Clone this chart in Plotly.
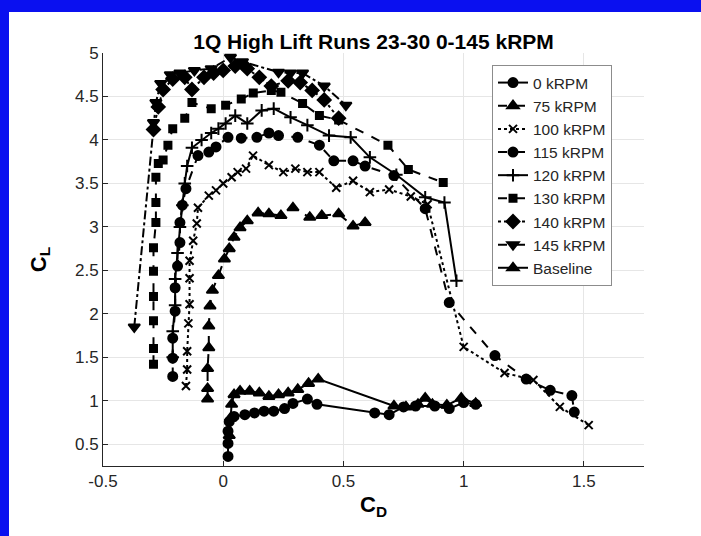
import plotly.graph_objects as go

# ---- data ----
cd_0 = [0.02, 0.02, 0.02, 0.025, 0.045, 0.09, 0.13, 0.17, 0.21, 0.255, 0.29, 0.35, 0.39, 0.63, 0.69, 0.75, 0.80, 0.88, 0.94, 1.0, 1.05]
cl_0 = [0.36, 0.51, 0.65, 0.76, 0.82, 0.84, 0.86, 0.88, 0.88, 0.91, 0.97, 1.02, 0.96, 0.86, 0.84, 0.93, 0.94, 0.94, 0.91, 0.98, 0.96]

cd_75 = [-0.065, -0.065, -0.065, -0.06, -0.06, -0.055, -0.045, -0.02, 0.005, 0.025, 0.045, 0.07, 0.10, 0.145, 0.19, 0.24, 0.29, 0.36, 0.41, 0.48, 0.54, 0.59]
cl_75 = [1.02, 1.14, 1.37, 1.61, 1.86, 2.09, 2.27, 2.44, 2.63, 2.75, 2.88, 2.99, 3.07, 3.16, 3.15, 3.13, 3.22, 3.11, 3.13, 3.15, 3.01, 3.05]

cd_100 = [-0.155, -0.15, -0.15, -0.145, -0.14, -0.14, -0.14, -0.125, -0.11, -0.105, -0.06, -0.03, 0.0, 0.035, 0.06, 0.095, 0.124, 0.19, 0.25, 0.30, 0.35, 0.40, 0.47, 0.54, 0.61, 0.69, 0.78, 0.85, 1.0, 1.17, 1.29, 1.40, 1.52]
cl_100 = [1.17, 1.36, 1.57, 1.89, 2.11, 2.41, 2.61, 2.84, 3.04, 3.22, 3.36, 3.42, 3.50, 3.57, 3.63, 3.67, 3.82, 3.71, 3.63, 3.67, 3.63, 3.63, 3.45, 3.53, 3.40, 3.43, 3.35, 3.26, 1.62, 1.32, 1.24, 0.93, 0.72]

cd_115 = [-0.21, -0.21, -0.21, -0.20, -0.20, -0.19, -0.18, -0.18, -0.17, -0.155, -0.105, -0.06, -0.03, 0.02, 0.075, 0.14, 0.19, 0.23, 0.31, 0.40, 0.46, 0.54, 0.59, 0.71, 0.84, 0.94, 1.13, 1.26, 1.36, 1.45, 1.46]
cl_115 = [1.28, 1.49, 1.72, 2.03, 2.30, 2.55, 2.82, 3.05, 3.25, 3.44, 3.82, 3.86, 3.92, 4.03, 4.02, 4.03, 4.08, 4.05, 4.03, 3.94, 3.76, 3.76, 3.70, 3.59, 3.21, 2.13, 1.52, 1.25, 1.12, 1.06, 0.87]

cd_120 = [-0.21, -0.21, -0.20, -0.20, -0.19, -0.18, -0.17, -0.16, -0.15, -0.13, -0.09, -0.05, -0.02, 0.01, 0.05, 0.10, 0.16, 0.21, 0.28, 0.35, 0.44, 0.53, 0.61, 0.72, 0.84, 0.92, 0.97]
cl_120 = [1.50, 1.80, 2.10, 2.40, 2.70, 3.00, 3.25, 3.50, 3.70, 3.91, 4.00, 4.08, 4.13, 4.19, 4.28, 4.19, 4.34, 4.36, 4.26, 4.17, 4.05, 4.03, 3.80, 3.60, 3.34, 3.28, 2.38]

cd_130 = [-0.29, -0.29, -0.29, -0.29, -0.29, -0.29, -0.28, -0.28, -0.28, -0.27, -0.25, -0.23, -0.21, -0.16, -0.13, -0.05, 0.01, 0.075, 0.125, 0.20, 0.24, 0.33, 0.40, 0.48, 0.685, 0.77, 0.915]
cl_130 = [1.42, 1.60, 1.92, 2.20, 2.49, 2.76, 3.05, 3.28, 3.57, 3.73, 3.77, 3.94, 4.13, 4.25, 4.43, 4.36, 4.40, 4.47, 4.54, 4.57, 4.55, 4.42, 4.28, 4.23, 3.94, 3.66, 3.51]

cd_140 = [-0.29, -0.27, -0.25, -0.21, -0.16, -0.13, -0.08, -0.04, 0.0, 0.05, 0.10, 0.15, 0.20, 0.27, 0.32, 0.37, 0.42, 0.48]
cl_140 = [4.12, 4.38, 4.58, 4.70, 4.72, 4.58, 4.72, 4.77, 4.80, 4.85, 4.82, 4.72, 4.62, 4.68, 4.66, 4.57, 4.46, 4.25]

cd_145 = [-0.37, -0.29, -0.28, -0.26, -0.22, -0.18, -0.12, -0.05, 0.03, 0.08, 0.23, 0.28, 0.33, 0.42, 0.51]
cl_145 = [1.85, 4.20, 4.43, 4.65, 4.75, 4.77, 4.80, 4.82, 4.95, 4.90, 4.78, 4.77, 4.77, 4.62, 4.40]

cd_base = [0.025, 0.03, 0.035, 0.045, 0.07, 0.11, 0.15, 0.19, 0.23, 0.27, 0.31, 0.355, 0.395, 0.71, 0.76, 0.81, 0.84, 0.87, 0.93, 0.99, 1.05]
cl_base = [0.60, 0.80, 0.96, 1.07, 1.11, 1.11, 1.09, 1.05, 1.07, 1.09, 1.13, 1.20, 1.25, 0.94, 0.93, 0.96, 1.03, 0.96, 0.95, 1.03, 0.97]

x_ticks = [-0.5, 0, 0.5, 1, 1.5]
x_tick_labels = ["-0.5", "0", "0.5", "1", "1.5"]
y_ticks = [0.5, 1, 1.5, 2, 2.5, 3, 3.5, 4, 4.5, 5]
y_tick_labels = ["0.5", "1", "1.5", "2", "2.5", "3", "3.5", "4", "4.5", "5"]

series = [
    ("0 kRPM", cd_0, cl_0, "circle", "solid", 9),
    ("75 kRPM", cd_75, cl_75, "triangle-up", "dash", 10),
    ("100 kRPM", cd_100, cl_100, "x-thin", "dot", 8),
    ("115 kRPM", cd_115, cl_115, "circle", "dash", 9),
    ("120 kRPM", cd_120, cl_120, "cross-thin", "solid", 9),
    ("130 kRPM", cd_130, cl_130, "square", "dash", 7),
    ("140 kRPM", cd_140, cl_140, "diamond", "dot", 10),
    ("145 kRPM", cd_145, cl_145, "triangle-down", "dashdot", 10),
    ("Baseline", cd_base, cl_base, "triangle-up", "solid", 10),
]

fig = go.Figure()
for name, xs, ys, sym, dash, size in series:
    fig.add_trace(go.Scatter(
        x=xs, y=ys, name=name, mode="lines+markers",
        line=dict(color="black", width=2, dash=dash),
        marker=dict(symbol=sym, size=size, color="black",
                    line=dict(color="black", width=2)),
    ))

# plot-area geometry in pixels (for frame / legend placement)
L, R, T, B = 103, 57, 53, 70
W, H = 701, 536
pw, ph = W - L - R, H - T - B

def px_x(x):
    return (x - L) / pw

def px_y(y):
    return (H - B - y) / ph

shapes = [
    dict(type="rect", xref="paper", yref="paper", x0=px_x(0), x1=px_x(W), y0=px_y(12), y1=px_y(0),
         fillcolor="#0a10f0", line=dict(width=0), layer="above"),
    dict(type="rect", xref="paper", yref="paper", x0=px_x(0), x1=px_x(9), y0=px_y(H), y1=px_y(0),
         fillcolor="#0a10f0", line=dict(width=0), layer="above"),
]

fig.update_layout(
    width=W, height=H,
    margin=dict(l=L, r=R, t=T, b=B, autoexpand=False),
    paper_bgcolor="white", plot_bgcolor="white",
    font=dict(family="Liberation Sans, Arial, sans-serif", color="#262626", size=17),
    title=dict(text="<b>1Q High Lift Runs 23-30 0-145 kRPM</b>", xref="paper", x=0.5,
               xanchor="center", y=1 - 42 / H, yanchor="middle",
               font=dict(size=21, color="black")),
    showlegend=True,
    legend=dict(x=px_x(492), y=px_y(65), xanchor="left", yanchor="top",
                bgcolor="white", bordercolor="#8c8c8c", borderwidth=1,
                font=dict(size=15.5, color="#262626"), tracegroupgap=0),
    shapes=shapes,
)
fig.update_xaxes(range=[-0.5, 1.75], tickvals=x_ticks, ticktext=x_tick_labels,
                 showgrid=True, gridcolor="#e6e6e6", gridwidth=1, zeroline=False,
                 showline=True, linecolor="#262626", linewidth=1, ticks="inside", ticklen=5,
                 tickcolor="#262626", mirror=False, tickfont=dict(size=17),
                 title=dict(text="<b>C<sub>D</sub></b>", font=dict(size=22, color="black"), standoff=6))
fig.update_yaxes(range=[0.25, 5], tickvals=y_ticks, ticktext=y_tick_labels,
                 showgrid=True, gridcolor="#e6e6e6", gridwidth=1, zeroline=False,
                 showline=True, linecolor="#262626", linewidth=1, ticks="inside", ticklen=5,
                 tickcolor="#262626", mirror=False, tickfont=dict(size=17),
                 title=dict(text="<b>C<sub>L</sub></b>", font=dict(size=22, color="black"), standoff=22))

fig.write_html("out.html", config={"displayModeBar": False},
               post_script="document.body.style.margin='0';")
